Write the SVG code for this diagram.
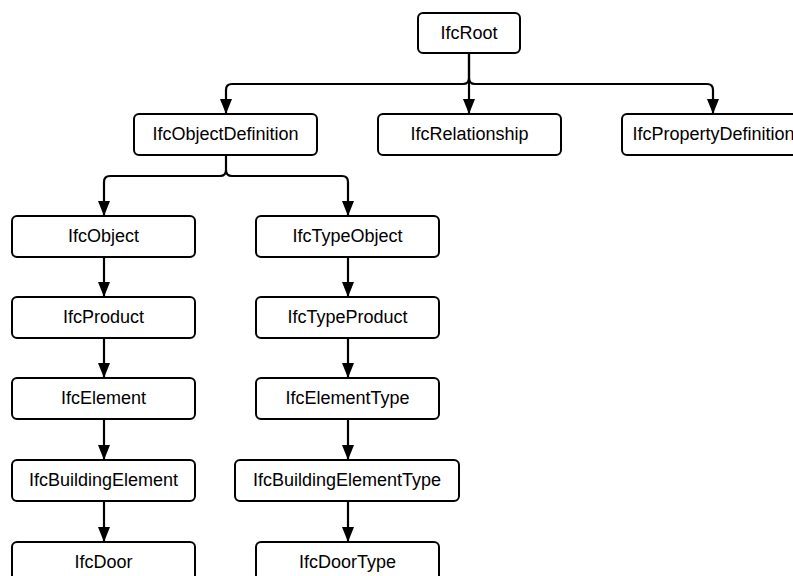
<svg xmlns="http://www.w3.org/2000/svg" width="793" height="576" viewBox="0 0 793 576">
  <defs>
    <marker id="arrow" viewBox="0 0 15 12" refX="15" refY="6" markerWidth="15" markerHeight="12" markerUnits="userSpaceOnUse" orient="auto">
      <path d="M0 0 L15 6 L0 12 Z" fill="#000"/>
    </marker>
    <style>
      .node rect { fill: #fff; stroke: #000; stroke-width: 2; }
      .node text { font-family: "Liberation Sans", Arial, sans-serif; font-size: 18px; fill: #000; text-anchor: middle; }
      #connectors path { fill: none; stroke: #000; stroke-width: 2.2; }
      .arr { marker-end: url(#arrow); }
    </style>
  </defs>
  <rect width="793" height="576" fill="#fff"/>

  <g id="connectors">
    <!-- IfcRoot to its three children -->
    <path class="arr" d="M469 53 V78 Q469 84 463 84 H232 Q226 84 226 90 V114"/>
    <path class="arr" d="M469 53 V114"/>
    <path class="arr" d="M469 78 Q469 84 475 84 H707 Q713 84 713 90 V114"/>
    <!-- IfcObjectDefinition split -->
    <path class="arr" d="M226 155 V170 Q226 176 220 176 H110 Q104 176 104 182 V216"/>
    <path class="arr" d="M226 170 Q226 176 232 176 H342 Q348 176 348 182 V216"/>
    <!-- left column -->
    <path class="arr" d="M104 257 V297"/>
    <path class="arr" d="M104 338 V378"/>
    <path class="arr" d="M104 419 V460"/>
    <path class="arr" d="M104 501 V542"/>
    <!-- right column -->
    <path class="arr" d="M348 257 V297"/>
    <path class="arr" d="M348 338 V378"/>
    <path class="arr" d="M348 419 V460"/>
    <path class="arr" d="M348 501 V542"/>
  </g>

  <g id="IfcRoot" class="node">
    <rect x="418" y="13" width="102" height="40" rx="5"/>
    <text x="469" y="39">IfcRoot</text>
  </g>
  <g id="IfcObjectDefinition" class="node">
    <rect x="134" y="114" width="183" height="41" rx="5"/>
    <text x="225.5" y="140">IfcObjectDefinition</text>
  </g>
  <g id="IfcRelationship" class="node">
    <rect x="378" y="114" width="183" height="41" rx="5"/>
    <text x="469.5" y="140">IfcRelationship</text>
  </g>
  <g id="IfcPropertyDefinition" class="node">
    <rect x="622" y="114" width="183" height="41" rx="5"/>
    <text x="713.5" y="140">IfcPropertyDefinition</text>
  </g>

  <g id="IfcObject" class="node">
    <rect x="12" y="216" width="183" height="41" rx="5"/>
    <text x="103.5" y="242">IfcObject</text>
  </g>
  <g id="IfcProduct" class="node">
    <rect x="12" y="297" width="183" height="41" rx="5"/>
    <text x="103.5" y="323">IfcProduct</text>
  </g>
  <g id="IfcElement" class="node">
    <rect x="12" y="378" width="183" height="41" rx="5"/>
    <text x="103.5" y="404">IfcElement</text>
  </g>
  <g id="IfcBuildingElement" class="node">
    <rect x="12" y="460" width="183" height="41" rx="5"/>
    <text x="103.5" y="486">IfcBuildingElement</text>
  </g>
  <g id="IfcDoor" class="node">
    <rect x="12" y="542" width="183" height="41" rx="5"/>
    <text x="103.5" y="568">IfcDoor</text>
  </g>

  <g id="IfcTypeObject" class="node">
    <rect x="256" y="216" width="183" height="41" rx="5"/>
    <text x="347.5" y="242">IfcTypeObject</text>
  </g>
  <g id="IfcTypeProduct" class="node">
    <rect x="256" y="297" width="183" height="41" rx="5"/>
    <text x="347.5" y="323">IfcTypeProduct</text>
  </g>
  <g id="IfcElementType" class="node">
    <rect x="256" y="378" width="183" height="41" rx="5"/>
    <text x="347.5" y="404">IfcElementType</text>
  </g>
  <g id="IfcBuildingElementType" class="node">
    <rect x="235" y="460" width="224" height="41" rx="5"/>
    <text x="347" y="486">IfcBuildingElementType</text>
  </g>
  <g id="IfcDoorType" class="node">
    <rect x="256" y="542" width="183" height="41" rx="5"/>
    <text x="347.5" y="568">IfcDoorType</text>
  </g>
</svg>
